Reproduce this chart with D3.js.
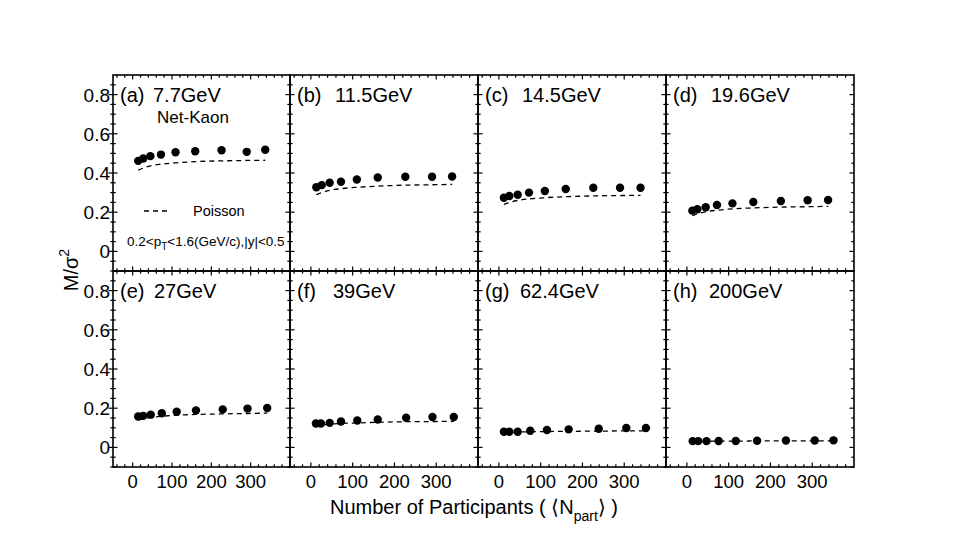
<!DOCTYPE html>
<html><head><meta charset="utf-8">
<script src="https://cdn.jsdelivr.net/npm/d3@7"></script>
<style>body{margin:0;background:#fff}svg text{font-family:"Liberation Sans",Arial,sans-serif;fill:#000}</style>
</head><body><svg id="c" width="969" height="542"></svg>
<script>
const panelLetters = ["(a)","(b)","(c)","(d)","(e)","(f)","(g)","(h)"];
const energies = ["7.7GeV","11.5GeV","14.5GeV","19.6GeV","27GeV","39GeV","62.4GeV","200GeV"];
const npart = [
  [14, 27, 45, 72, 109, 159, 226, 290, 337],
  [13, 26, 45, 72, 110, 160, 226, 290, 338],
  [12, 25, 45, 72, 110, 160, 226, 290, 339],
  [13, 25, 45, 72, 109, 159, 225, 289, 338],
  [14, 27, 46, 74, 112, 161, 229, 292, 342],
  [12, 24, 45, 72, 111, 160, 228, 291, 342],
  [12, 25, 45, 75, 115, 167, 239, 305, 352],
  [14, 27, 47, 76, 117, 168, 237, 306, 351]
];
const netKaon = [
  [0.462, 0.474, 0.486, 0.494, 0.506, 0.511, 0.516, 0.508, 0.519],
  [0.327, 0.338, 0.350, 0.355, 0.367, 0.377, 0.381, 0.381, 0.382],
  [0.274, 0.283, 0.289, 0.300, 0.308, 0.318, 0.325, 0.325, 0.325],
  [0.208, 0.215, 0.225, 0.237, 0.245, 0.252, 0.257, 0.261, 0.262],
  [0.158, 0.161, 0.167, 0.174, 0.182, 0.189, 0.194, 0.198, 0.201],
  [0.122, 0.122, 0.125, 0.132, 0.137, 0.142, 0.151, 0.155, 0.155],
  [0.080, 0.080, 0.080, 0.085, 0.089, 0.092, 0.095, 0.099, 0.099],
  [0.032, 0.032, 0.032, 0.033, 0.033, 0.034, 0.035, 0.035, 0.036]
];
const poisson = [
  [0.415, 0.425, 0.436, 0.445, 0.452, 0.458, 0.462, 0.464, 0.465],
  [0.290, 0.300, 0.311, 0.320, 0.327, 0.333, 0.338, 0.340, 0.342],
  [0.240, 0.250, 0.260, 0.268, 0.274, 0.279, 0.283, 0.285, 0.286],
  [0.183, 0.192, 0.202, 0.210, 0.217, 0.222, 0.226, 0.228, 0.230],
  [0.140, 0.146, 0.153, 0.159, 0.164, 0.168, 0.171, 0.173, 0.175],
  [0.110, 0.114, 0.118, 0.122, 0.125, 0.128, 0.131, 0.132, 0.133],
  [0.074, 0.076, 0.078, 0.080, 0.081, 0.082, 0.083, 0.084, 0.084],
  [0.030, 0.031, 0.031, 0.032, 0.032, 0.033, 0.033, 0.033, 0.034]
];
const xTicks = [0, 100, 200, 300];
const yTicks = [0, 0.2, 0.4, 0.6, 0.8];
const yTickLabels = ["0", "0.2", "0.4", "0.6", "0.8"];
const xDomain = [-50, 400];
const yDomain = [-0.1, 0.9];

const svg = d3.select("#c");
const colX = [113, 290, 478, 666, 854];
const rowY = [75, 271, 467];
const energyOffset = [40, 45, 44, 45, 41, 43, 42, 43];
const MAJ = 4.5, MIN = 2.7;

for (let p = 0; p < 8; p++) {
  const col = p % 4, row = Math.floor(p / 4);
  const x0 = colX[col], x1 = colX[col + 1], y0 = rowY[row], y1 = rowY[row + 1];
  const x = d3.scaleLinear().domain(xDomain).range([x0, x1]);
  const y = d3.scaleLinear().domain(yDomain).range([y1, y0]);
  const g = svg.append("g");
  g.append("rect").attr("x", x0).attr("y", y0).attr("width", x1 - x0).attr("height", y1 - y0)
    .attr("fill", "none").attr("stroke", "#000").attr("stroke-width", 1.6);
  const xMinor = d3.range(-40, 400, 20).filter(v => v % 100 !== 0);
  const yMinor = d3.range(-2, 18).map(i => i * 0.05).filter(v => !yTicks.some(t => Math.abs(t - v) < 1e-6));
  const tickG = g.append("g").attr("stroke", "#000").attr("stroke-width", 1.2);
  // x ticks (inward)
  [[y0, 1], [y1, -1]].forEach(([yy, s]) => {
    xTicks.forEach(v => tickG.append("line").attr("x1", x(v)).attr("x2", x(v)).attr("y1", yy).attr("y2", yy + s * MAJ));
    xMinor.forEach(v => tickG.append("line").attr("x1", x(v)).attr("x2", x(v)).attr("y1", yy).attr("y2", yy + s * MIN));
  });
  // y ticks (inward, crossing on outer left edge)
  [[x0, 1], [x1, -1]].forEach(([xx, s]) => {
    const out = (col === 0 && s === 1);
    yTicks.forEach(v => tickG.append("line").attr("y1", y(v)).attr("y2", y(v))
      .attr("x1", out ? xx - MAJ : xx).attr("x2", xx + s * MAJ));
    yMinor.forEach(v => tickG.append("line").attr("y1", y(v)).attr("y2", y(v))
      .attr("x1", out ? xx - MIN : xx).attr("x2", xx + s * MIN));
  });
  if (col === 0) {
    yTicks.forEach((v, i) => g.append("text").attr("x", x0 - 3).attr("y", y(v) + 7)
      .attr("text-anchor", "end").attr("font-size", 19).text(yTickLabels[i]));
  }
  if (row === 1) {
    xTicks.forEach(v => g.append("text").attr("x", x(v)).attr("y", y1 + 21)
      .attr("text-anchor", "middle").attr("font-size", 18.5).text(v));
  }
  const pts = npart[p].map((n, i) => [n, poisson[p][i]]);
  g.append("path").datum(pts)
    .attr("d", d3.line().x(d => x(d[0])).y(d => y(d[1])).curve(d3.curveMonotoneX))
    .attr("fill", "none").attr("stroke", "#000").attr("stroke-width", 1.3).attr("stroke-dasharray", "5,4");
  g.selectAll("circle.pt").data(npart[p].map((n, i) => [n, netKaon[p][i]])).enter()
    .append("circle").attr("cx", d => x(d[0])).attr("cy", d => y(d[1])).attr("r", 4.2).attr("fill", "#000");
  g.append("text").attr("x", x0 + 7).attr("y", y0 + 26.5).attr("font-size", 20).text(panelLetters[p]);
  g.append("text").attr("x", x0 + energyOffset[p]).attr("y", y0 + 26.5).attr("font-size", 20).text(energies[p]);
  if (p === 0) {
    g.append("text").attr("x", 193).attr("y", 123).attr("text-anchor", "middle").attr("font-size", 17).text("Net-Kaon");
    g.append("line").attr("x1", 144).attr("x2", 167).attr("y1", 211).attr("y2", 211)
      .attr("stroke", "#000").attr("stroke-width", 1.3).attr("stroke-dasharray", "5,4");
    g.append("text").attr("x", 193).attr("y", 216).attr("font-size", 14.5).text("Poisson");
    const t = g.append("text").attr("x", 127).attr("y", 246).attr("font-size", 13.5);
    t.append("tspan").text("0.2<p");
    t.append("tspan").attr("font-size", 10).attr("dy", 4).text("T");
    t.append("tspan").attr("dy", -4).text("<1.6(GeV/c),|y|<0.5");
  }
}
const yt = svg.append("text").attr("transform", "translate(78,270) rotate(-90)").attr("text-anchor", "middle").attr("font-size", 20);
yt.append("tspan").text("M/σ");
yt.append("tspan").attr("font-size", 14).attr("dy", -9).text("2");
const xt = svg.append("text").attr("x", 474).attr("y", 514).attr("text-anchor", "middle").attr("font-size", 20);
xt.append("tspan").text("Number of Participants ( ⟨N");
xt.append("tspan").attr("font-size", 14).attr("dy", 7).text("part");
xt.append("tspan").attr("dy", -7).text("⟩ )");
</script></body></html>
